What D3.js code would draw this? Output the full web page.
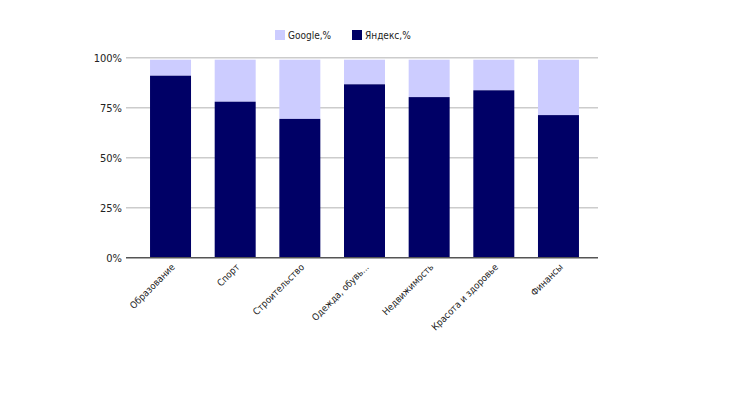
<!DOCTYPE html>
<html>
<head>
<meta charset="utf-8">
<script src="https://cdn.jsdelivr.net/npm/d3@7"></script>
<style>
  body { margin: 0; background: #fff; }
  text { font-family: "DejaVu Sans Condensed", "DejaVu Sans", sans-serif; fill: #222; }
</style>
</head>
<body>
<svg id="chart" width="751" height="397"></svg>
<script>
var categories = ["Образование", "Спорт", "Строительство", "Одежда, обувь...", "Недвижимость", "Красота и здоровье", "Финансы"];
var yandex = [91, 78, 69.4, 86.7, 80.3, 83.7, 71.3];
var google = [8, 21, 29.6, 12.3, 18.7, 15.3, 27.7];
var yTicks = [0, 25, 50, 75, 100];
var seriesNames = ["Google,%", "Яндекс,%"];
var colors = { google: "#ccccff", yandex: "#000066" };

var svg = d3.select("#chart");
var plotLeft = 126, plotRight = 598, plotTop = 57.7, plotBottom = 257.7;

var x = d3.scaleBand()
  .domain(categories)
  .range([138.2, 590.8])
  .paddingInner(0.366)
  .paddingOuter(0.183);

var y = d3.scaleLinear().domain([0, 100]).range([plotBottom, plotTop]);

// grid
var grid = svg.append("g").attr("class", "grid");
grid.selectAll("line")
  .data(yTicks.filter(function(d) { return d > 0; }))
  .enter().append("line")
  .attr("x1", plotLeft).attr("x2", plotRight)
  .attr("y1", function(d) { return y(d); })
  .attr("y2", function(d) { return y(d); })
  .attr("stroke", "#cccccc")
  .attr("stroke-width", 1.5);

// y labels
svg.append("g").selectAll("text")
  .data(yTicks)
  .enter().append("text")
  .attr("x", 122)
  .attr("y", function(d) { return y(d) + 4; })
  .attr("text-anchor", "end")
  .style("font-size", "11px")
  .text(function(d) { return d + "%"; });

// bars
var bars = svg.append("g");
categories.forEach(function(c, i) {
  bars.append("rect")
    .attr("x", x(c)).attr("width", x.bandwidth())
    .attr("y", y(yandex[i] + google[i]))
    .attr("height", y(yandex[i]) - y(yandex[i] + google[i]))
    .attr("fill", colors.google);
  bars.append("rect")
    .attr("x", x(c)).attr("width", x.bandwidth())
    .attr("y", y(yandex[i]))
    .attr("height", plotBottom - y(yandex[i]))
    .attr("fill", colors.yandex);
});

// baseline
svg.append("line")
  .attr("x1", plotLeft).attr("x2", plotRight)
  .attr("y1", plotBottom).attr("y2", plotBottom)
  .attr("stroke", "#555")
  .attr("stroke-width", 1.5);

// x labels
svg.append("g").selectAll("text")
  .data(categories)
  .enter().append("text")
  .attr("transform", function(d) {
    return "translate(" + (x(d) + x.bandwidth() / 2 + 5) + "," + (plotBottom + 10) + ") rotate(-45)";
  })
  .attr("text-anchor", "end")
  .style("font-size", "9.5px")
  .text(function(d) { return d; });

// legend
var legend = svg.append("g");
var lx = [275, 352];
seriesNames.forEach(function(n, i) {
  legend.append("rect")
    .attr("x", lx[i]).attr("y", 30)
    .attr("width", 10).attr("height", 10)
    .attr("fill", i === 0 ? colors.google : colors.yandex);
  legend.append("text")
    .attr("x", lx[i] + 13).attr("y", 39)
    .style("font-size", "10px")
    .text(n);
});
</script>
</body>
</html>
